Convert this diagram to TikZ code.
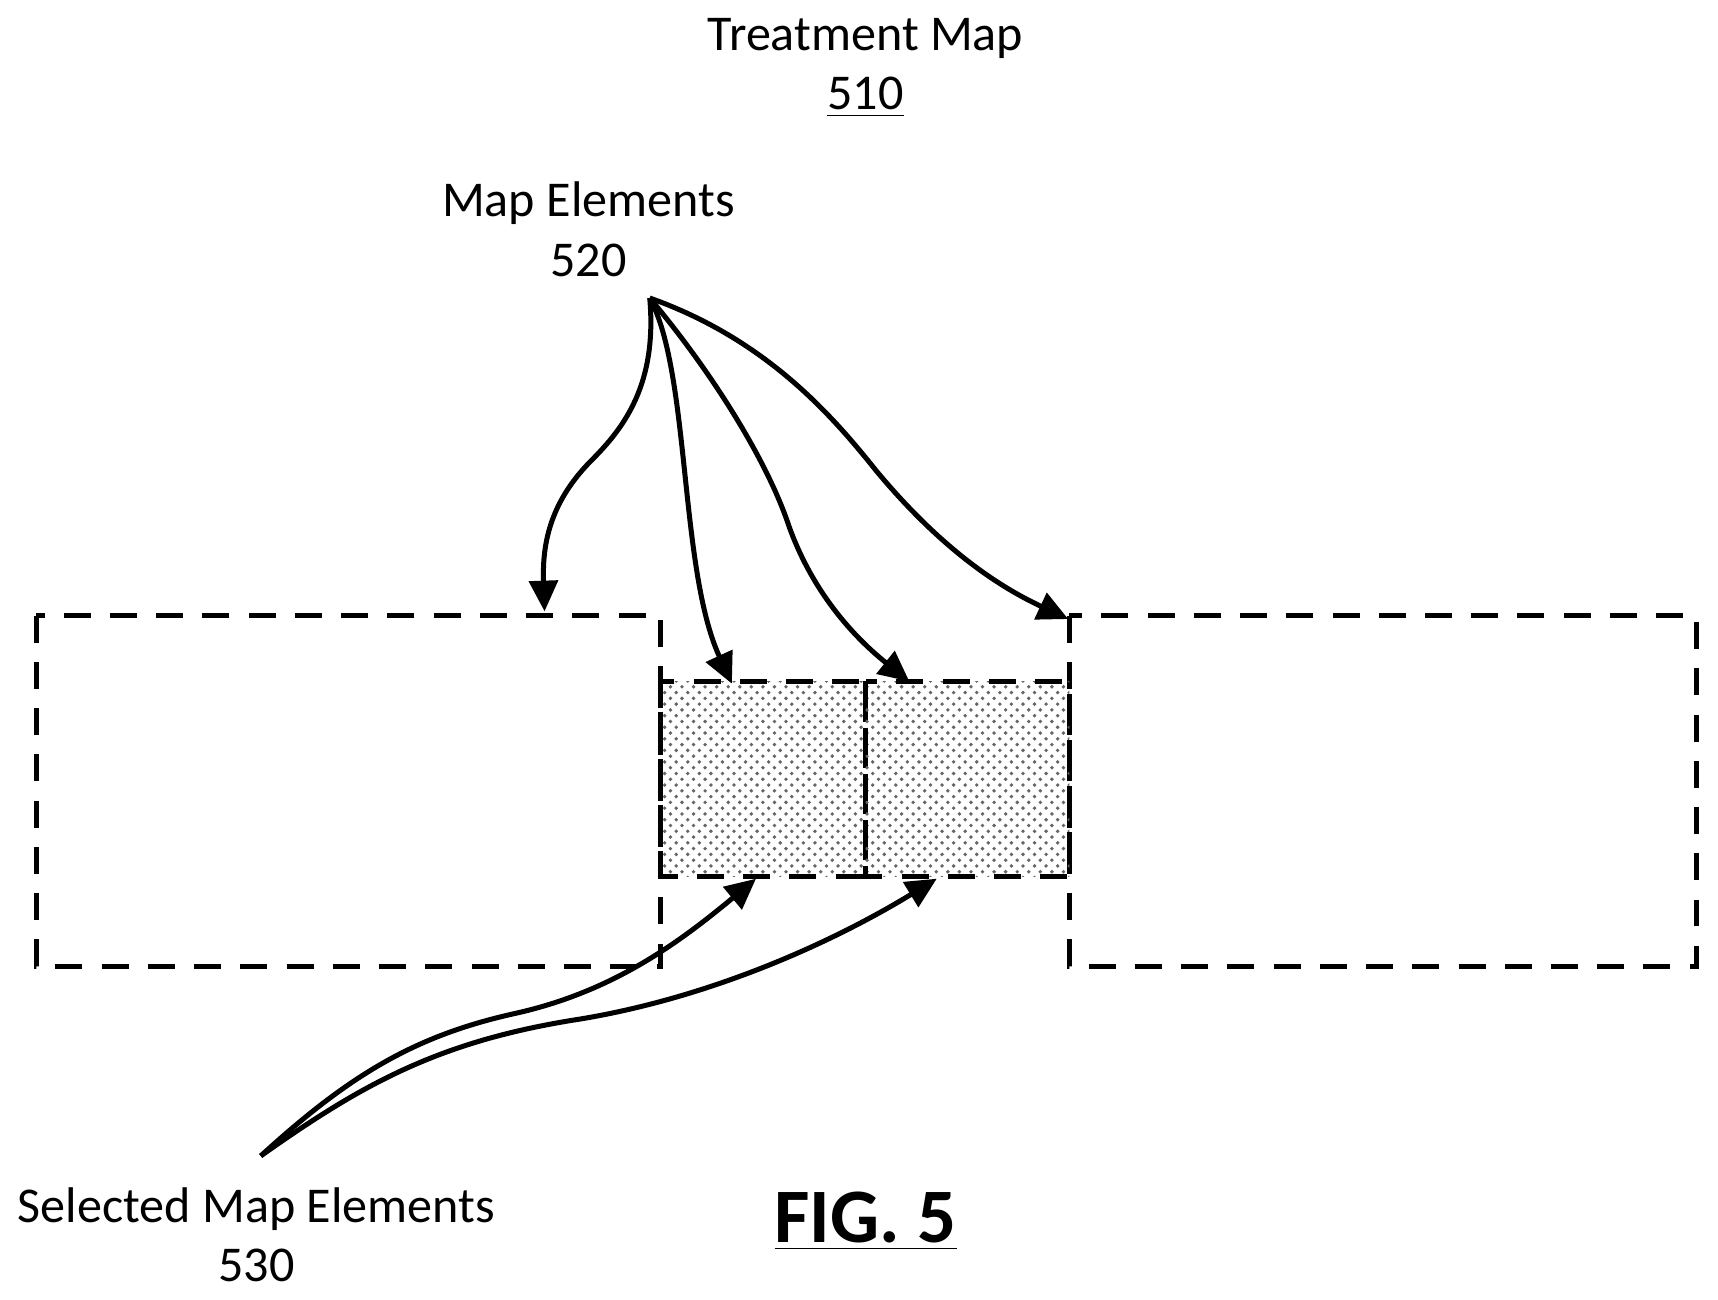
\documentclass[tikz,border=0pt]{standalone}
\usepackage{fontspec}
\setmainfont{Carlito}
\usetikzlibrary{arrows.meta,patterns}
\begin{document}
\begin{tikzpicture}[x=0.01cm,y=-0.01cm,
  box/.style={draw,line width=1.3pt,dash pattern=on 7pt off 5pt},
  sel/.style={box,pattern=crosshatch dots,pattern color=black!60},
  arr/.style={line width=1.3pt,-{Triangle[length=0.28cm,width=0.26cm]}},
  lbl/.style={font=\fontsize{13}{15.5}\selectfont,align=center}]
\useasboundingbox (0,0) rectangle (1568,1186);
\draw[box] (33,562) rectangle (603,882);
\draw[box] (976,562) rectangle (1548,882);
\draw[sel] (603,622) rectangle (790,800);
\draw[sel] (790,622) rectangle (976,800);
\coordinate (t1) at (497,558);
\coordinate (t2) at (668,624);
\coordinate (t3) at (830,622);
\coordinate (t4) at (975,565);
\coordinate (t5) at (690,802);
\coordinate (t6) at (855,802);
\node[lbl] (tm) at (790,62) {Treatment Map\\\underline{510}};
\node[lbl] (me) at (537,209) {Map Elements\\520};
\node[lbl] (sme) at (234,1127) {Selected Map Elements\\530};
\node[font=\bfseries\fontsize{20}{24}\selectfont] (fig) at (790,1115) {\underline{FIG. 5}};
\coordinate (s) at (593,272);
\coordinate (s2) at (238,1055);
\draw[arr] (s) .. controls (600,350) and (570,390) .. (540,420) .. controls (500,460) and (495,500) .. (t1);
\draw[arr] (s) .. controls (630,340) and (620,520) .. (t2);
\draw[arr] (s) .. controls (650,340) and (700,420) .. (720,480) .. controls (745,550) and (790,590) .. (t3);
\draw[arr] (s) .. controls (700,310) and (760,380) .. (800,430) .. controls (850,490) and (900,530) .. (t4);
\draw[arr] (s2) .. controls (320,980) and (380,945) .. (470,925) .. controls (560,905) and (620,860) .. (t5);
\draw[arr] (s2) .. controls (330,990) and (400,950) .. (530,930) .. controls (650,910) and (760,860) .. (t6);
\end{tikzpicture}
\end{document}
